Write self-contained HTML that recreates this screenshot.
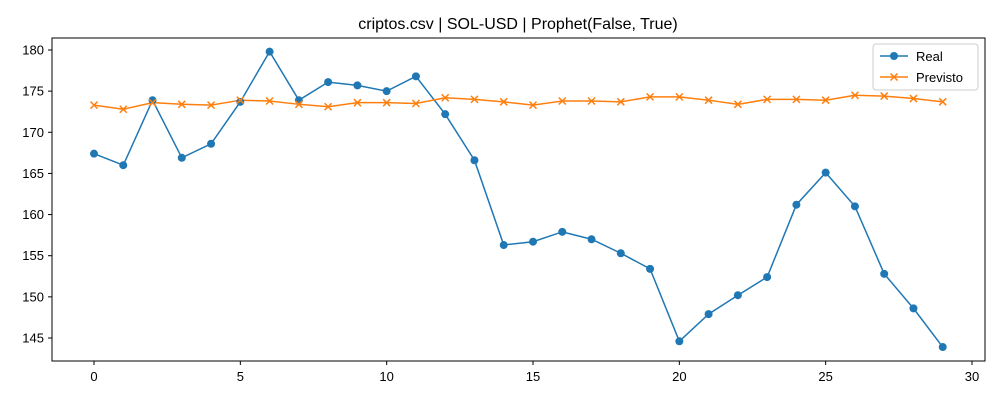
<!DOCTYPE html>
<html><head><meta charset="utf-8"><style>
html,body{margin:0;padding:0;background:#fff;}
svg{display:block;font-family:"Liberation Sans","DejaVu Sans",sans-serif;}
</style></head><body>
<svg id="chart" width="1000" height="400">
<rect x="0" y="0" width="1000" height="400" fill="#fff"/>
<text x="518" y="29" text-anchor="middle" font-size="16">criptos.csv | SOL-USD | Prophet(False, True)</text>
<rect x="52" y="38" width="933" height="323" fill="none" stroke="#000" stroke-width="1"/>
<g id="axes"></g>
<g id="series"></g>
<g>
<rect x="873" y="44" width="105" height="46" rx="3" fill="#fff" stroke="#ccc"/>
<line x1="880" y1="56" x2="908" y2="56" stroke="#1f77b4" stroke-width="1.5"/>
<circle cx="894" cy="56" r="4" fill="#1f77b4"/>
<text x="916" y="61" font-size="13">Real</text>
<line x1="880" y1="77" x2="908" y2="77" stroke="#ff7f0e" stroke-width="1.5"/>
<path d="M890.5 73.5L897.5 80.5M897.5 73.5L890.5 80.5" stroke="#ff7f0e" stroke-width="1.5"/>
<text x="916" y="82" font-size="13">Previsto</text>
</g>
</svg>
<script>
const real = [167.4,166.0,173.9,166.9,168.6,173.7,179.8,173.9,176.1,175.7,175.0,176.8,172.2,166.6,156.3,156.7,157.9,157.0,155.3,153.4,144.6,147.9,150.2,152.4,161.2,165.1,161.0,152.8,148.6,143.9];
const previsto = [173.3,172.8,173.6,173.4,173.3,173.9,173.8,173.4,173.1,173.6,173.6,173.5,174.2,174.0,173.7,173.3,173.8,173.8,173.7,174.3,174.3,173.9,173.4,174.0,174.0,173.9,174.5,174.4,174.1,173.7];
const xTicks = [0,5,10,15,20,25,30];
const yTicks = [145,150,155,160,165,170,175,180];

const NS = "http://www.w3.org/2000/svg";
function xs(v){return 94 + v*(972-94)/30;}
function ys(v){return 338 - (v-145)*(338-50)/35;}
function mk(tag, attrs, parent){const e=document.createElementNS(NS,tag);for(const k in attrs)e.setAttribute(k,attrs[k]);parent.appendChild(e);return e;}
const axes=document.getElementById('axes'), series=document.getElementById('series');
xTicks.forEach(t=>{
  mk('line',{x1:xs(t),x2:xs(t),y1:361,y2:365,stroke:'#000'},axes);
  const tx=mk('text',{x:xs(t),y:381,'text-anchor':'middle','font-size':13},axes);
  tx.textContent=t;
  
  
});
yTicks.forEach(t=>{
  mk('line',{x1:48,x2:52,y1:ys(t),y2:ys(t),stroke:'#000'},axes);
  const tx=mk('text',{x:44,y:ys(t)+4.5,'text-anchor':'end','font-size':13},axes);
  tx.textContent=t;
  
  
});
function line(data,color,name){
  const p=mk('polyline',{points:data.map((v,i)=>xs(i)+','+ys(v)).join(' '),fill:'none',stroke:color,'stroke-width':1.5},series);
  
  
}
line(real,'#1f77b4','real');
line(previsto,'#ff7f0e','previsto');
real.forEach((v,i)=>{
  const c=mk('circle',{cx:xs(i),cy:ys(v),r:4,fill:'#1f77b4'},series);
  
  
});
previsto.forEach((v,i)=>{
  const x=xs(i),y=ys(v);
  const m=mk('path',{d:`M${x-3.5} ${y-3.5}L${x+3.5} ${y+3.5}M${x+3.5} ${y-3.5}L${x-3.5} ${y+3.5}`,stroke:'#ff7f0e','stroke-width':1.5},series);
  
  
});
</script>
</body></html>
